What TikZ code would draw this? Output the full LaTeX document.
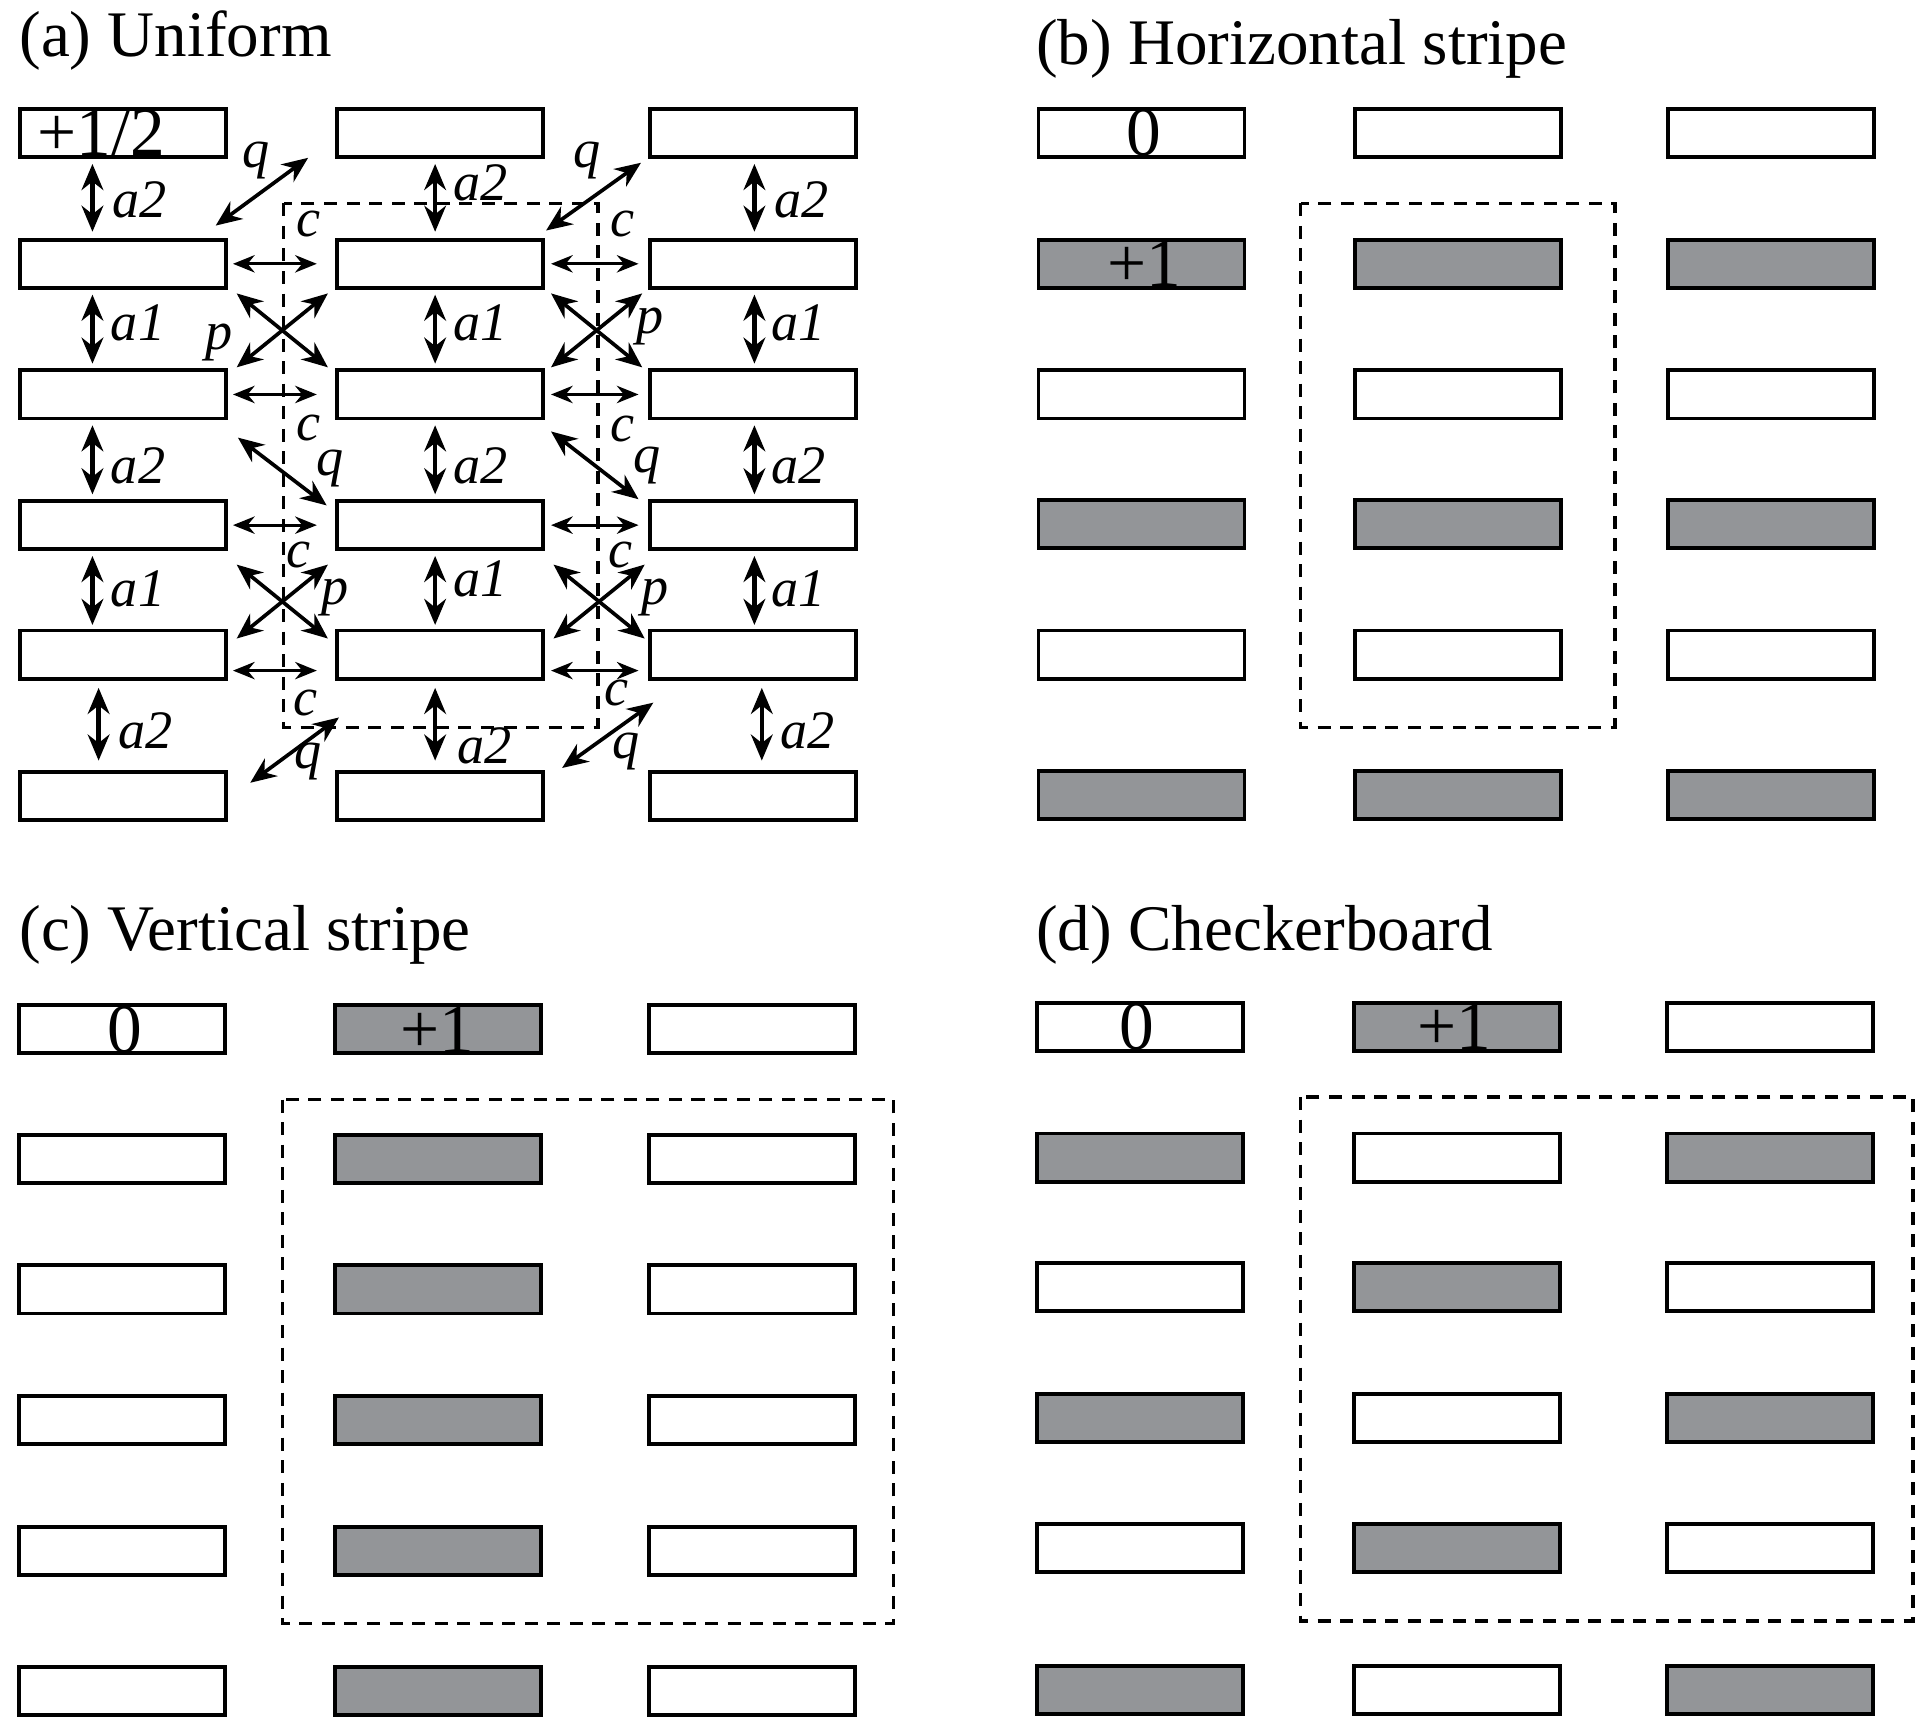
\documentclass[tikz,border=0pt]{standalone}
\usepackage{fontspec}
\setmainfont{Liberation Serif}
\usetikzlibrary{arrows.meta}
\definecolor{g}{HTML}{939598}
\begin{document}
\begin{tikzpicture}[x=0.01cm,y=-0.01cm,
 box/.style={draw,line width=0.9pt,minimum width=1.67cm,minimum height=0.39cm,inner sep=0pt},
 gb/.style={box,fill=g},
 bt/.style={font=\fontsize{16}{16}\selectfont,inner sep=0pt},
 ttl/.style={anchor=west,font=\fontsize{15}{16}\selectfont,inner sep=0pt},
 dr/.style={draw,dash pattern=on 3pt off 2.2pt,line width=0.8pt},
 da/.style={{Stealth[length=6pt,width=5pt]}-{Stealth[length=6pt,width=5pt]},line width=1pt},
 ha/.style={{Stealth[length=5pt,width=4pt]}-{Stealth[length=5pt,width=4pt]},line width=0.7pt},
 lb/.style={font=\fontsize{12.5}{12.5}\selectfont\itshape,inner sep=0pt}]
\useasboundingbox (0,0) rectangle (1560,1399);
% titles
\node[ttl] (ta) at (15,33) {(a) Uniform};
\node[ttl] (tb) at (840,40) {(b) Horizontal stripe};
\node[ttl] (tc) at (15,758) {(c) Vertical stripe};
\node[ttl] (td) at (840,758) {(d) Checkerboard};
% panel a
\foreach \r/\y in {0/108,1/214,2/320,3/426,4/531,5/646}{
 \node[box] (a0\r) at (100,\y) {};
 \node[box] (a1\r) at (357,\y) {};
 \node[box] (a2\r) at (611,\y) {};}
\node[bt] at (82,108) {+1/2};
\draw[dr] (230,165) rectangle (485,590);
% vertical arrows
\foreach \x in {75,353,612}{
 \draw[da] (\x,133)--(\x,188);
 \draw[da] (\x,239)--(\x,295);
 \draw[da] (\x,345)--(\x,401);
 \draw[da] (\x,451)--(\x,507);
}
\draw[da] (80,558)--(80,617);
\draw[da] (353,558)--(353,617);
\draw[da] (618,558)--(618,617);
\node[lb] at (113,162) {a2}; \node[lb] at (390,148) {a2}; \node[lb] at (650,162) {a2};
\node[lb] at (112,262) {a1}; \node[lb] at (390,262) {a1}; \node[lb] at (648,262) {a1};
\node[lb] at (112,378) {a2}; \node[lb] at (390,378) {a2}; \node[lb] at (648,378) {a2};
\node[lb] at (112,478) {a1}; \node[lb] at (390,470) {a1}; \node[lb] at (648,478) {a1};
\node[lb] at (118,593) {a2}; \node[lb] at (393,605) {a2}; \node[lb] at (655,593) {a2};
% horizontal c
\foreach \y in {214,320,426,544}{
 \draw[ha] (189,\y)--(257,\y);
 \draw[ha] (447,\y)--(518,\y);}
\node[lb] at (250,182) {c}; \node[lb] at (505,182) {c};
\node[lb] at (250,347) {c}; \node[lb] at (505,348) {c};
\node[lb] at (242,450) {c}; \node[lb] at (503,450) {c};
\node[lb] at (248,570) {c}; \node[lb] at (500,562) {c};
% p crosses
\foreach \cx/\cy in {229/268,484/268,229/488,486/488}{
 \draw[da,line width=0.85pt] (\cx-37,\cy-30)--(\cx+37,\cy+30);
 \draw[da,line width=0.85pt] (\cx-37,\cy+30)--(\cx+37,\cy-30);}
\node[lb] at (178,278) {p}; \node[lb] at (527,265) {p};
\node[lb] at (272,485) {p}; \node[lb] at (531,485) {p};
% q
\draw[da,line width=0.85pt] (175,183)--(250,128); \node[lb] at (208,130) {q};
\draw[da,line width=0.85pt] (443,187)--(520,132); \node[lb] at (476,130) {q};
\draw[da,line width=0.85pt] (193,355)--(265,410); \node[lb] at (268,380) {q};
\draw[da,line width=0.85pt] (447,350)--(518,405); \node[lb] at (525,378) {q};
\draw[da,line width=0.85pt] (203,635)--(275,582); \node[lb] at (250,618) {q};
\draw[da,line width=0.85pt] (456,623)--(530,570); \node[lb] at (508,610) {q};
% panel b
\foreach \r/\y/\s in {0/108/box,1/214/gb,2/320/box,3/425/gb,4/531/box,5/645/gb}{
 \node[\s] (b0\r) at (926,\y) {};
 \node[\s] (b1\r) at (1183,\y) {};
 \node[\s] (b2\r) at (1437,\y) {};}
\node[bt] at (928,108) {0};
\node[bt] at (928,214) {+1};
\draw[dr] (1055,165) rectangle (1310,590);
% panel c
\foreach \r/\y in {0/835,1/940,2/1046,3/1152,4/1258,5/1372}{
 \node[box] (c0\r) at (99,\y) {};
 \node[gb] (c1\r) at (355,\y) {};
 \node[box] (c2\r) at (610,\y) {};}
\node[bt] at (101,835) {0};
\node[bt] at (355,835) {+1};
\draw[dr] (229,892) rectangle (725,1317);
% panel d
\foreach \r/\y/\s/\t in {0/833/box/gb,1/939/gb/box,2/1044/box/gb,3/1150/gb/box,4/1256/box/gb,5/1371/gb/box}{
 \node[\s] (d0\r) at (925,\y) {};
 \node[\t] (d1\r) at (1182,\y) {};
 \node[\s] (d2\r) at (1436,\y) {};}
\node[bt] at (922,833) {0};
\node[bt] at (1180,833) {+1};
\draw[dr] (1055,890) rectangle (1552,1315);
\end{tikzpicture}
\end{document}
